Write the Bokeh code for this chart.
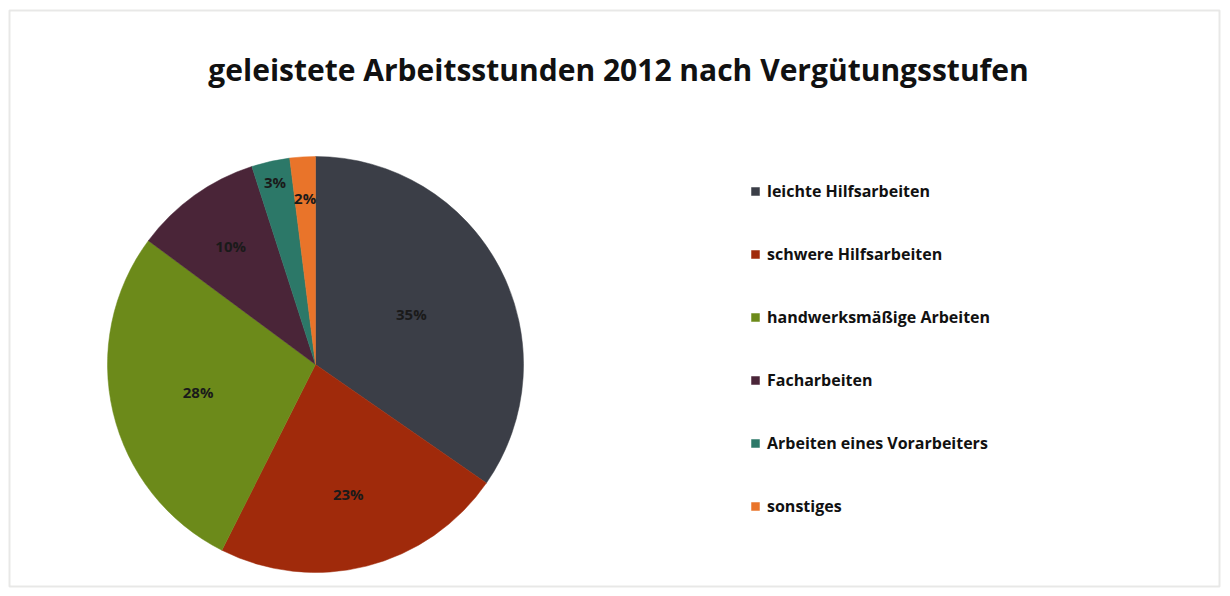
import math
from bokeh.plotting import figure
from bokeh.models import Range1d, Legend, LegendItem, ColumnDataSource, BoxAnnotation
from bokeh.core.properties import value
from bokeh.embed import file_html
from bokeh.resources import INLINE

# ---- data ----
title_text = "geleistete Arbeitsstunden 2012 nach Vergütungsstufen"
categories = ["leichte Hilfsarbeiten", "schwere Hilfsarbeiten", "handwerksmäßige Arbeiten",
              "Facharbeiten", "Arbeiten eines Vorarbeiters", "sonstiges"]
percent = [35, 23, 28, 10, 3, 2]
colors = ["#3b3e47", "#a02a0b", "#6c8a1a", "#4a2538", "#2c7868", "#e9742a"]

# ---- layout (styles) ----
W, H = 1222, 588
cx, cy, R = 315, H - 364, 208
label_r = [0.52, 0.64, 0.58, 0.70, 0.90, 0.80]

total = sum(percent)
starts, ends, lx, ly, labels = [], [], [], [], []
cum = 0.0
for i, v in enumerate(percent):
    a0 = math.pi / 2 - 2 * math.pi * cum / total
    cum += v
    a1 = math.pi / 2 - 2 * math.pi * cum / total
    starts.append(a0)
    ends.append(a1)
    mid = (a0 + a1) / 2
    lx.append(cx + label_r[i] * R * math.cos(mid))
    ly.append(cy + label_r[i] * R * math.sin(mid))
    labels.append(f"{v}%")

p = figure(width=W, height=H, x_range=Range1d(0, W), y_range=Range1d(0, H),
           output_backend="svg", toolbar_location=None, min_border=0)
p.axis.visible = False
p.grid.visible = False
p.outline_line_color = None
p.background_fill_color = "white"
p.border_fill_color = "white"

# chart-area frame
p.add_layout(BoxAnnotation(left=9, right=1219, bottom=2, top=H - 10,
                           fill_alpha=0, line_color="#b4b4b0", line_width=2))

renderers = []
for i in range(len(percent)):
    r = p.wedge(x=cx, y=cy, radius=R, start_angle=starts[i], end_angle=ends[i],
                direction="clock", fill_color=colors[i], line_color=colors[i], line_width=0.5)
    renderers.append(r)

src = ColumnDataSource(dict(x=lx, y=ly, t=labels))
p.text(x="x", y="y", text="t", source=src, text_align="center", text_baseline="middle",
       text_font=value("Open Sans"), text_font_style="bold", text_font_size="15px",
       text_color="#1a1a1a")

p.text(x=[618], y=[H - 69], text=[title_text], text_align="center", text_baseline="middle",
       text_font=value("Open Sans"), text_font_style="bold", text_font_size="30px",
       text_color="#111111")

legend = Legend(items=[LegendItem(label=c, renderers=[renderers[i]]) for i, c in enumerate(categories)],
                location=(750, 71), orientation="vertical",
                glyph_width=10, glyph_height=10, label_height=20, spacing=41,
                label_standoff=7, padding=0, margin=0,
                label_text_font="Open Sans", label_text_font_style="bold",
                label_text_font_size="16px", label_text_color="#111111",
                border_line_color=None, background_fill_alpha=0)
p.add_layout(legend)

open("out.html", "w").write(file_html(p, INLINE))
